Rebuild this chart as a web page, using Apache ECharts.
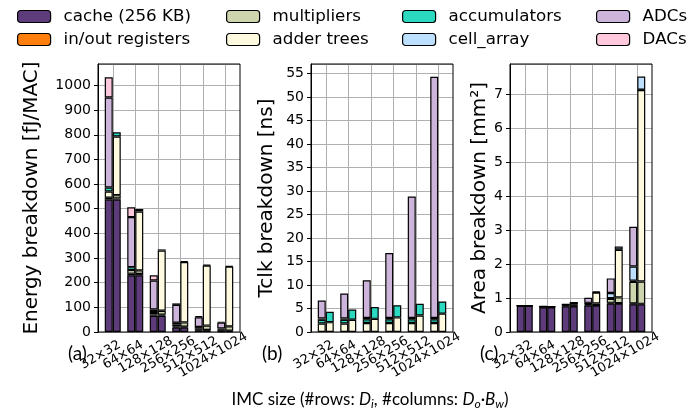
<!DOCTYPE html>
<html>
<head>
<meta charset="utf-8">
<script src="https://cdn.jsdelivr.net/npm/echarts@6/dist/echarts.min.js"></script>
<style>
html, body { margin: 0; padding: 0; background: #fff; }
#chart { width: 698px; height: 419px; }
</style>
</head>
<body>
<div id="chart"></div>
<script>
// IMC sizes (x categories)
const sizes = ['32×32', '64×64', '128×128', '256×256', '512×512', '1024×1024'];

const partNames = ['cache (256 KB)', 'in/out registers', 'multipliers', 'adder trees',
    'accumulators', 'cell_array', 'ADCs', 'DACs'];
const partColors = ['#5e3c7b', '#ff7f0e', '#ccd5ae', '#fefae0',
    '#2bd9c1', '#bde0fe', '#cdb4db', '#ffc8dd'];

// (a) energy [fJ/MAC] -- left bar / right bar
const energyCacheL = [537, 230, 66, 18, 6, 3];
const energyRegsL = [8, 6, 5, 4, 3, 2];
const energyAdderL = [25, 15, 10, 8, 6, 5];
const energyAccL = [16, 12, 10, 8, 5, 4];
const energyAdcL = [365, 203, 118, 72, 40, 24];
const energyDacL = [82, 40, 21, 6, 4, 3];
const energyCacheR = [537, 230, 66, 18, 6, 3];
const energyRegsR = [5, 5, 4, 3, 2, 2];
const energyMultR = [13, 15, 16, 18, 18, 18];
const energyAdderR = [238, 239, 244, 245, 244, 242];
const energyAccR = [17, 10, 5, 3, 3, 3];

// (b) Tclk [ns]
const tclkAdderL = [1.8, 1.8, 1.9, 1.9, 1.9, 1.9];
const tclkAccL = [0.8, 0.8, 0.8, 0.8, 0.8, 0.8];
const tclkCellL = [0.3, 0.3, 0.3, 0.3, 0.3, 0.3];
const tclkAdcL = [3.8, 5.3, 8.0, 13.8, 25.8, 51.3];
const tclkAdderR = [2.1, 2.6, 2.8, 3.1, 3.5, 3.9];
const tclkAccR = [2.2, 2.2, 2.5, 2.6, 2.5, 2.6];

// (c) area [mm2]
const areaCacheL = [0.77, 0.73, 0.76, 0.78, 0.84, 0.82];
const areaRegsL = [0.01, 0.02, 0.02, 0.02, 0.02, 0.02];
const areaMultL = [0, 0, 0.02, 0.03, 0.12, 0.64];
const areaAccL = [0, 0, 0, 0.01, 0.02, 0.03];
const areaCellL = [0, 0, 0.01, 0.02, 0.15, 0.42];
const areaAdcL = [0, 0.01, 0.01, 0.15, 0.43, 1.17];
const areaCacheR = [0.77, 0.73, 0.76, 0.78, 0.84, 0.82];
const areaRegsR = [0.01, 0.01, 0.01, 0.01, 0.01, 0.01];
const areaMultR = [0, 0.01, 0.05, 0.05, 0.17, 0.66];
const areaAdderR = [0, 0, 0.04, 0.32, 1.40, 5.64];
const areaAccR = [0, 0, 0, 0.01, 0.01, 0.01];
const areaCellR = [0, 0, 0.01, 0.02, 0.09, 0.39];

const yMax = [1087, 57, 7.9];
const yStep = [100, 5, 1];
const yNames = ['Energy breakdown [fJ/MAC]', 'Tclk breakdown [ns]', 'Area breakdown [mm²]'];
const yNameGap = [56, 34, 10];
const panelTags = ['(a)', '(b)', '(c)'];

const panels = [
    [[energyCacheL, energyRegsL, null, energyAdderL, energyAccL, null, energyAdcL, energyDacL],
     [energyCacheR, energyRegsR, energyMultR, energyAdderR, energyAccR, null, null, null]],
    [[null, null, null, tclkAdderL, tclkAccL, tclkCellL, tclkAdcL, null],
     [null, null, null, tclkAdderR, tclkAccR, null, null, null]],
    [[areaCacheL, areaRegsL, areaMultL, null, areaAccL, areaCellL, areaAdcL, null],
     [areaCacheR, areaRegsR, areaMultR, areaAdderR, areaAccR, areaCellR, null, null]]
];

const frameLeft = [98, 311, 510];
const frameW = 142, plotTop = 64, plotH = 268;
const barsW = 135;
const tagX = [68, 262, 480];

const font = 'DejaVu Sans';
const grids = [], xAxes = [], yAxes = [], series = [], graphics = [];
const gridColor = '#b0b0b0';

const halfSteps = [];
for (let i = 0; i <= 12; i++) halfSteps.push(String(i));

panels.forEach(function (sides, p) {
    // frame grid (y axis + horizontal grid) and bar grid
    grids.push({left: frameLeft[p], top: plotTop, width: frameW, height: plotH});
    grids.push({left: frameLeft[p] + (frameW - barsW) / 2, top: plotTop, width: barsW, height: plotH});

    xAxes.push({gridIndex: 2 * p, type: 'value', min: 0, max: 1, show: false});
    xAxes.push({
        gridIndex: 2 * p + 1, type: 'category', data: sizes, position: 'bottom',
        axisLine: {show: false},
        axisTick: {alignWithLabel: true, length: 4, lineStyle: {color: '#000'}},
        axisLabel: {
            interval: 0, rotate: 30, align: 'center', verticalAlign: 'middle',
            padding: [0, 28, 0, 0], margin: 16,
            fontSize: 13, fontFamily: font, color: '#000'
        },
        splitLine: {show: false}
    });
    // helper axis for vertical gridlines through category centres
    xAxes.push({
        gridIndex: 2 * p + 1, type: 'category', data: halfSteps, boundaryGap: false,
        position: 'top',
        axisLine: {show: false}, axisTick: {show: false}, axisLabel: {show: false},
        splitLine: {
            show: true, lineStyle: {color: gridColor, width: 1},
            interval: function (idx) { return idx % 2 === 1; }
        }
    });

    yAxes.push({
        gridIndex: 2 * p, type: 'value', min: 0, max: yMax[p], interval: yStep[p],
        name: yNames[p], nameLocation: 'middle', nameGap: yNameGap[p],
        nameTextStyle: {fontSize: 20, fontFamily: font, color: '#000'},
        axisLine: {show: true, lineStyle: {color: '#000'}},
        axisTick: {show: true, length: 4, lineStyle: {color: '#000'}},
        axisLabel: {
            fontSize: 14, fontFamily: font, color: '#000', margin: 7, showMaxLabel: false,
            formatter: function (v) { return String(v); }
        },
        splitLine: {show: true, lineStyle: {color: gridColor, width: 1}}
    });
    yAxes.push({gridIndex: 2 * p + 1, type: 'value', min: 0, max: yMax[p], show: false,
        splitLine: {show: false}});

    sides.forEach(function (parts, s) {
        parts.forEach(function (vals, k) {
            if (!vals) return;
            series.push({
                name: partNames[k], type: 'bar',
                xAxisIndex: 3 * p + 1, yAxisIndex: 2 * p + 1,
                stack: 'p' + p + 's' + s,
                barWidth: 8, barGap: '0%',
                data: vals,
                itemStyle: {color: partColors[k], borderColor: '#000', borderWidth: 1.2},
                emphasis: {disabled: true}
            });
        });
    });

    graphics.push({
        type: 'rect', z: 100, silent: true,
        shape: {x: frameLeft[p], y: plotTop, width: frameW, height: plotH},
        style: {fill: null, stroke: '#000', lineWidth: 1}
    });
    graphics.push({
        type: 'text', z: 100, left: tagX[p], top: 344,
        style: {text: panelTags[p], fontSize: 19, fontFamily: 'Lato', fill: '#000'}
    });
});

graphics.push({
    type: 'text', z: 100, x: 370, y: 400,
    style: {
        text: '{n|IMC size (#rows: }{it|D}{sub|i}{n|, #columns: }{it|D}{sub|o}{n|·}{it|B}{sub|w}{n|)}',
        align: 'center', verticalAlign: 'middle',
        rich: {
            n: {fontSize: 17, fontFamily: 'Lato', fill: '#000'},
            it: {fontSize: 17, fontFamily: 'Lato', fontStyle: 'italic', fill: '#000'},
            sub: {fontSize: 12, fontFamily: 'Lato', fontStyle: 'italic', fill: '#000', padding: [9, 0, 0, 0]}
        }
    }
});

const legendCols = [[0, 1], [2, 3], [4, 5], [6, 7]];
const legendLeft = [12, 221, 397, 591];
const legends = legendCols.map(function (col, i) {
    return {
        left: legendLeft[i], top: 3, orient: 'vertical',
        data: col.map(function (k) { return partNames[k]; }),
        itemWidth: 33, itemHeight: 12, itemGap: 6,
        selectedMode: false,
        textStyle: {fontSize: 16.7, fontFamily: font, color: '#000', padding: [0, 0, 0, 8]},
        itemStyle: {borderColor: '#000', borderWidth: 1.2}
    };
});

const chart = echarts.init(document.getElementById('chart'), null, {renderer: 'canvas'});
chart.setOption({
    animation: false,
    backgroundColor: '#fff',
    legend: legends,
    grid: grids,
    xAxis: xAxes,
    yAxis: yAxes,
    series: series,
    graphic: graphics
});
</script>
</body>
</html>
